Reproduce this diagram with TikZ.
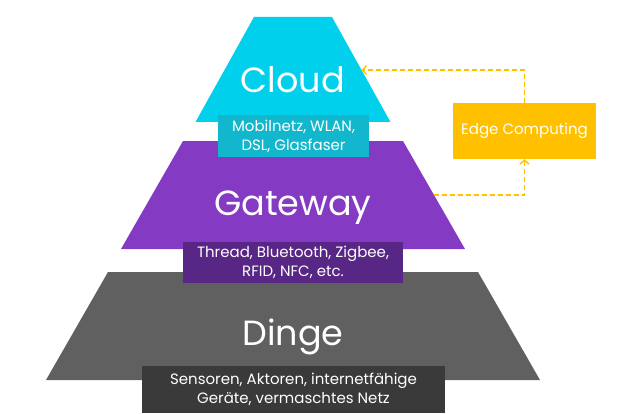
\documentclass[tikz,border=0pt]{standalone}
\usepackage{fontspec}
\setmainfont{Poppins}
\usetikzlibrary{arrows.meta,calc}
\definecolor{cloudc}{RGB}{0,208,235}
\definecolor{cloudd}{RGB}{18,183,205}
\definecolor{gatec}{RGB}{132,58,194}
\definecolor{gated}{RGB}{88,38,132}
\definecolor{dingc}{RGB}{96,96,96}
\definecolor{dingd}{RGB}{58,58,58}
\definecolor{edgec}{RGB}{255,192,0}
\tikzset{
  bigtxt/.style={text=white, font=\fontsize{35}{40}\selectfont, anchor=base, inner sep=0pt},
  labbox/.style={text=white, font=\fontsize{15}{19}\selectfont, align=center, inner sep=0pt},
  flow/.style={draw=edgec, line width=1.4pt, dash pattern=on 5pt off 3pt, -{Straight Barb[length=4pt,width=9pt,line width=1.4pt]}}
}
\begin{document}
\begin{tikzpicture}[x=1pt,y=1pt]
\useasboundingbox (0,0) rectangle (620,413);
% Dinge layer
\coordinate (dTL) at (108,141); \coordinate (dTR) at (478,141);
\coordinate (dBR) at (540,33); \coordinate (dBL) at (46,33);
\fill[dingc] (dTL) -- (dTR) -- (dBR) -- (dBL) -- cycle;
% Gateway layer
\coordinate (gTL) at (183,272); \coordinate (gTR) at (403,272);
\coordinate (gBR) at (465,164); \coordinate (gBL) at (121,164);
\fill[gatec] (gTL) -- (gTR) -- (gBR) -- (gBL) -- cycle;
% Cloud layer
\coordinate (cTL) at (254,396); \coordinate (cTR) at (332,396);
\coordinate (cBR) at (390.5,291); \coordinate (cBL) at (195.5,291);
\fill[cloudc] (cTL) -- (cTR) -- (cBR) -- (cBL) -- cycle;
% titles
\node[bigtxt] (cloud) at (293,320) {Cloud};
\node[bigtxt] (gateway) at (293,198) {Gateway};
\node[bigtxt] (dinge) at (293,68) {Dinge};
% label boxes
\node[labbox, fill=cloudd, minimum width=151pt, minimum height=42pt] (cloudlab) at (293.5,277) {Mobilnetz, WLAN,\\DSL, Glasfaser};
\node[labbox, fill=gated, minimum width=220pt, minimum height=41pt] (gatelab) at (293,150.5) {Thread, Bluetooth, Zigbee,\\RFID, NFC, etc.};
\node[labbox, fill=dingd, minimum width=303pt, minimum height=47pt] (dingelab) at (293.5,23.5) {Sensoren, Aktoren, internetfähige\\Geräte, vermaschtes Netz};
% edge computing
\node[labbox, fill=edgec, minimum width=143pt, minimum height=56pt] (edge) at (524.5,282) {Edge Computing};
% connectors
\coordinate (cloudR) at ($(cTR)!0.505!(cBR)$);
\coordinate (gateR) at ($(gTR)!0.5!(gBR)$);
\draw[flow] (edge.north) |- (cloudR);
\draw[flow] (gateR) -| (edge.south);
\end{tikzpicture}
\end{document}
